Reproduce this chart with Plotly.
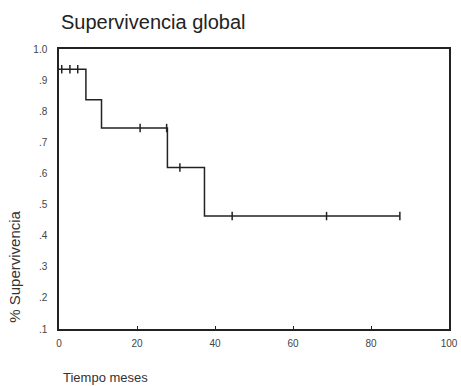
import plotly.graph_objects as go

# Kaplan-Meier step data (time in months, survival proportion)
step_times = [0, 6.9, 10.9, 27.8, 37.3, 87.4]
step_surv = [0.935, 0.837, 0.746, 0.619, 0.463, 0.463]

# Censored observations
censor_times = [0.7, 2.8, 4.8, 20.8, 27.6, 31.0, 44.4, 68.6, 87.4]
censor_surv = [0.935, 0.935, 0.935, 0.746, 0.746, 0.619, 0.463, 0.463, 0.463]

y_tick_vals = [0.1, 0.2, 0.3, 0.4, 0.5, 0.6, 0.7, 0.8, 0.9, 1.0]
y_tick_text = [".1", ".2", ".3", ".4", ".5", ".6", ".7", ".8", ".9", "1.0"]
x_tick_vals = [0, 20, 40, 60, 80, 100]

fig = go.Figure()
fig.add_trace(go.Scatter(
    x=step_times, y=step_surv, mode="lines",
    line=dict(shape="hv", color="#222222", width=1.5),
    showlegend=False, hoverinfo="skip"))
fig.add_trace(go.Scatter(
    x=censor_times, y=censor_surv, mode="markers",
    marker=dict(symbol="line-ns", size=6, line=dict(color="#222222", width=1.5)),
    showlegend=False))

fig.update_layout(
    width=461, height=386,
    margin=dict(l=59, r=12, t=49, b=57),
    paper_bgcolor="white", plot_bgcolor="white",
    font=dict(family="Liberation Sans, Arial, sans-serif", color="#333333"),
    xaxis=dict(range=[0, 100], tickvals=x_tick_vals, showgrid=False, zeroline=False,
               showline=True, linecolor="#222222", linewidth=1.5, mirror=True,
               ticks="inside", ticklen=3, tickcolor="#222222",
               ticklabelstandoff=4, automargin=False,
               tickfont=dict(size=10, color="#444444")),
    yaxis=dict(range=[0.1, 1.0], tickvals=y_tick_vals, ticktext=y_tick_text,
               showgrid=False, zeroline=False,
               showline=True, linecolor="#222222", linewidth=1.5, mirror=True,
               ticks="", ticklabelstandoff=8, automargin=False,
               tickfont=dict(size=10, color="#444444")),
    annotations=[
        dict(text="Supervivencia global", xref="paper", yref="paper",
             x=0, y=1.0, yshift=27, xanchor="left", yanchor="middle",
             showarrow=False, font=dict(size=20, color="#222222")),
        dict(text="% Supervivencia", xref="paper", yref="y",
             x=0, xshift=-44, y=0.30, textangle=-90,
             xanchor="center", yanchor="middle",
             showarrow=False, font=dict(size=15, color="#333333")),
        dict(text="Tiempo meses", xref="paper", yref="paper",
             x=0.005, y=0, yshift=-48, xanchor="left", yanchor="middle",
             showarrow=False, font=dict(size=13, color="#333333")),
    ],
)

fig.write_html("out.html", config={"displayModeBar": False},
               post_script="document.body.style.margin='0';")
